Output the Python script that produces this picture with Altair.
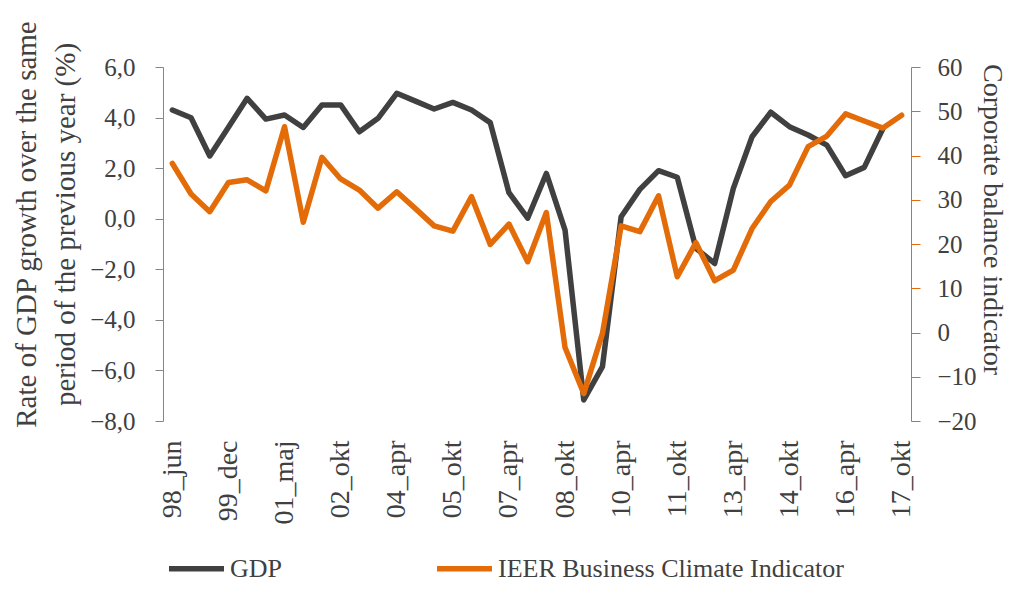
import json
import altair as alt
import pandas as pd

x_labels = ["98_jun", "99_dec", "01_maj", "02_okt", "04_apr", "05_okt", "07_apr",
            "08_okt", "10_apr", "11_okt", "13_apr", "14_okt", "16_apr", "17_okt"]

gdp = [4.30, 3.99, 2.48, 3.62, 4.76, 3.94, 4.10, 3.61, 4.50, 4.50,
       3.44, 3.97, 4.96, 4.65, 4.34, 4.60, 4.30, 3.80, 1.03, 0.02,
       1.79, -0.45, -7.17, -5.85, 0.08, 1.16, 1.90, 1.64, -1.17, -1.77,
       1.20, 3.24, 4.21, 3.64, 3.31, 2.91, 1.70, 2.03, 3.57]

ieer = [38.2, 31.3, 27.3, 33.9, 34.5, 32.0, 46.5, 24.9, 39.6, 34.7,
        32.2, 28.1, 31.8, 28.0, 24.1, 22.9, 30.7, 19.9, 24.5, 16.0,
        27.1, -3.4, -13.8, -0.2, 24.1, 22.8, 30.9, 12.6, 20.3, 11.7,
        14.1, 23.5, 29.6, 33.3, 42.0, 44.4, 49.4, 47.8, 46.2, 49.1]

series_names = ["GDP", "IEER Business Climate Indicator"]
series_colors = ["#404040", "#E36C09"]

gdp_df = pd.DataFrame({"idx": list(range(len(gdp))), "value": gdp, "series": series_names[0]})
ieer_df = pd.DataFrame({"idx": list(range(len(ieer))), "value": ieer, "series": series_names[1]})

FONT = "Liberation Serif"
TXT = "#404040"

label_expr = json.dumps(x_labels) + "[round(datum.value / 3)]"

x_enc = alt.X(
    "idx:Q",
    scale=alt.Scale(domain=[-0.5, 39.5], nice=False, zero=False),
    axis=alt.Axis(
        values=list(range(0, 40, 3)), labelExpr=label_expr, labelAngle=-90,
        ticks=False, tickSize=0, domain=False, grid=False, labelPadding=19,
        labelFontSize=28, labelFont=FONT, labelColor=TXT, labelOverlap=False,
        labelFlush=False, title=None,
    ),
)

color_enc = alt.Color(
    "series:N",
    scale=alt.Scale(domain=series_names, range=series_colors),
    legend=alt.Legend(
        orient="none", legendX=3, legendY=471, direction="horizontal", title=None,
        symbolType="stroke", symbolSize=3025, symbolStrokeWidth=5.5,
        labelFont=FONT, labelFontSize=26, labelColor=TXT, labelOffset=3,
        labelLimit=600, columnPadding=143,
    ),
)

line_style = dict(strokeWidth=5.5, strokeCap="round", strokeJoin="round")

left = alt.Chart(gdp_df).mark_line(**line_style).encode(
    x=x_enc,
    y=alt.Y(
        "value:Q",
        scale=alt.Scale(domain=[-8, 6], nice=False, zero=False),
        axis=alt.Axis(
            orient="left", values=list(range(-8, 7, 2)),
            labelExpr="replace(format(datum.value, '.1f'), '.', ',')",
            grid=False, domainColor="#868686", tickColor="#868686", tickSize=8,
            labelPadding=20, labelFont=FONT, labelFontSize=25, labelColor=TXT,
            title=["Rate of GDP growth over the same", "period of the previous year (%)"],
            titleFont=FONT, titleFontSize=29, titleFontWeight="normal", titleColor=TXT,
            titleAngle=-90, titleX=-151, titleY=157, titleAlign="center",
            titleBaseline="top", titleLineHeight=39,
        ),
    ),
    color=color_enc,
)

right = alt.Chart(ieer_df).mark_line(**line_style).encode(
    x=x_enc,
    y=alt.Y(
        "value:Q",
        scale=alt.Scale(domain=[-20, 60], nice=False, zero=False),
        axis=alt.Axis(
            orient="right", values=list(range(-20, 61, 10)),
            grid=False, domainColor="#E36C09", tickColor="#E36C09", tickSize=9,
            labelPadding=17, labelFont=FONT, labelFontSize=25, labelColor=TXT,
            title="Corporate balance indicator",
            titleFont=FONT, titleFontSize=28, titleFontWeight="normal", titleColor=TXT,
            titleAngle=90, titleX=80, titleY=152, titleAlign="center",
            titleBaseline="middle",
        ),
    ),
    color=color_enc,
)

chart = (
    alt.layer(left, right)
    .resolve_scale(y="independent")
    .properties(
        width=748, height=354,
        padding={"left": 155, "top": 59, "right": 97, "bottom": 163},
        autosize=alt.AutoSizeParams(type="none"),
    )
    .configure_view(stroke=None)
)

chart.save("out.html", embed_options={"renderer": "svg", "actions": False})
